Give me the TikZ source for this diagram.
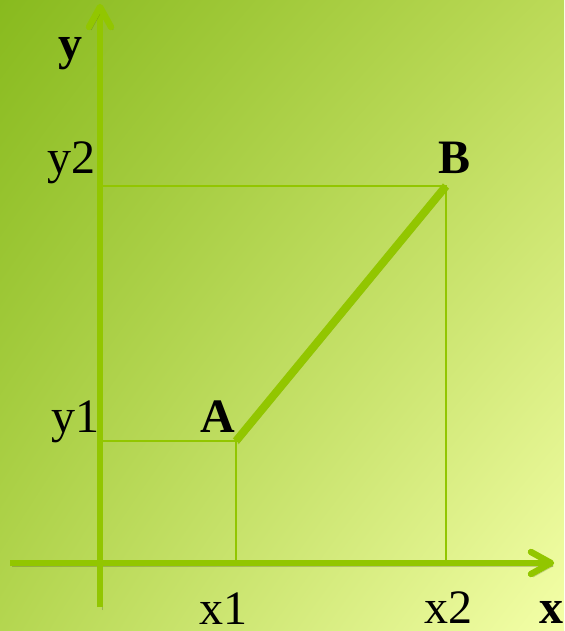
\documentclass[tikz,border=0pt]{standalone}
\usepackage{fontspec}
\setmainfont{Liberation Serif}
\usetikzlibrary{calc, shadings}
\definecolor{axisgreen}{RGB}{146,198,0}
\definecolor{bgtl}{RGB}{136,186,30}
\definecolor{bgtr}{RGB}{188,218,88}
\definecolor{bgbl}{RGB}{180,214,80}
\definecolor{bgbr}{RGB}{244,255,168}
\tikzset{
  soft/.style={preaction={draw=black, opacity=.18, transform canvas={shift={(1pt,-1.5pt)}}}},
  axisline/.style={draw=axisgreen, line width=2.6pt, line join=round, soft},
  barb/.style={axisline, line width=3.2pt, line cap=round},
  guide/.style={draw=axisgreen, line width=1pt},
  segment/.style={draw=axisgreen, line width=4pt, soft},
  lbl/.style={anchor=base, inner sep=0pt}
}
\begin{document}
\begin{tikzpicture}[x=0.5pt, y=-0.5pt, font=\fontsize{24}{28}\selectfont]
  % background
  \useasboundingbox (0,0) rectangle (564,631);
  \shade[upper left=bgtl, upper right=bgtr, lower left=bgbl, lower right=bgbr] (0,0) rectangle (564,631);
  % points
  \coordinate (O) at (100,563);
  \coordinate (xstart) at (10,563);
  \coordinate (xend) at (551,563);
  \coordinate (ystart) at (100,607);
  \coordinate (yend) at (100,7);
  \coordinate (A) at (236,441);
  \coordinate (B) at (446,186);
  % guides to the axes
  \draw[guide] (A -| O) -- (A) -- (A |- O);
  \draw[guide] (B -| O) -- (B) -- (B |- O);
  % axes with open tips
  \draw[axisline] (xstart) -- (xend);
  \draw[axisline] (ystart) -- (yend);
  \draw[barb] ($(xend)+(-20,-11)$) -- (xend) -- ($(xend)+(-20,11)$);
  \draw[barb] ($(yend)+(-11,20)$) -- (yend) -- ($(yend)+(11,20)$);
  % segment AB
  \draw[segment] (A) -- (B);
  % labels
  \node[lbl] (ylab) at (70,60) {\textbf{y}};
  \node[lbl] (xlab) at (551,623) {\textbf{x}};
  \node[lbl] (y2lab) at (71,173) {y2};
  \node[lbl] (y1lab) at (75,432) {y1};
  \node[lbl] (x1lab) at (223,624) {x1};
  \node[lbl] (x2lab) at (448,623) {x2};
  \node[lbl] (Alab) at (218,432) {\textbf{A}};
  \node[lbl] (Blab) at (455,173) {\textbf{B}};
\end{tikzpicture}
\end{document}
